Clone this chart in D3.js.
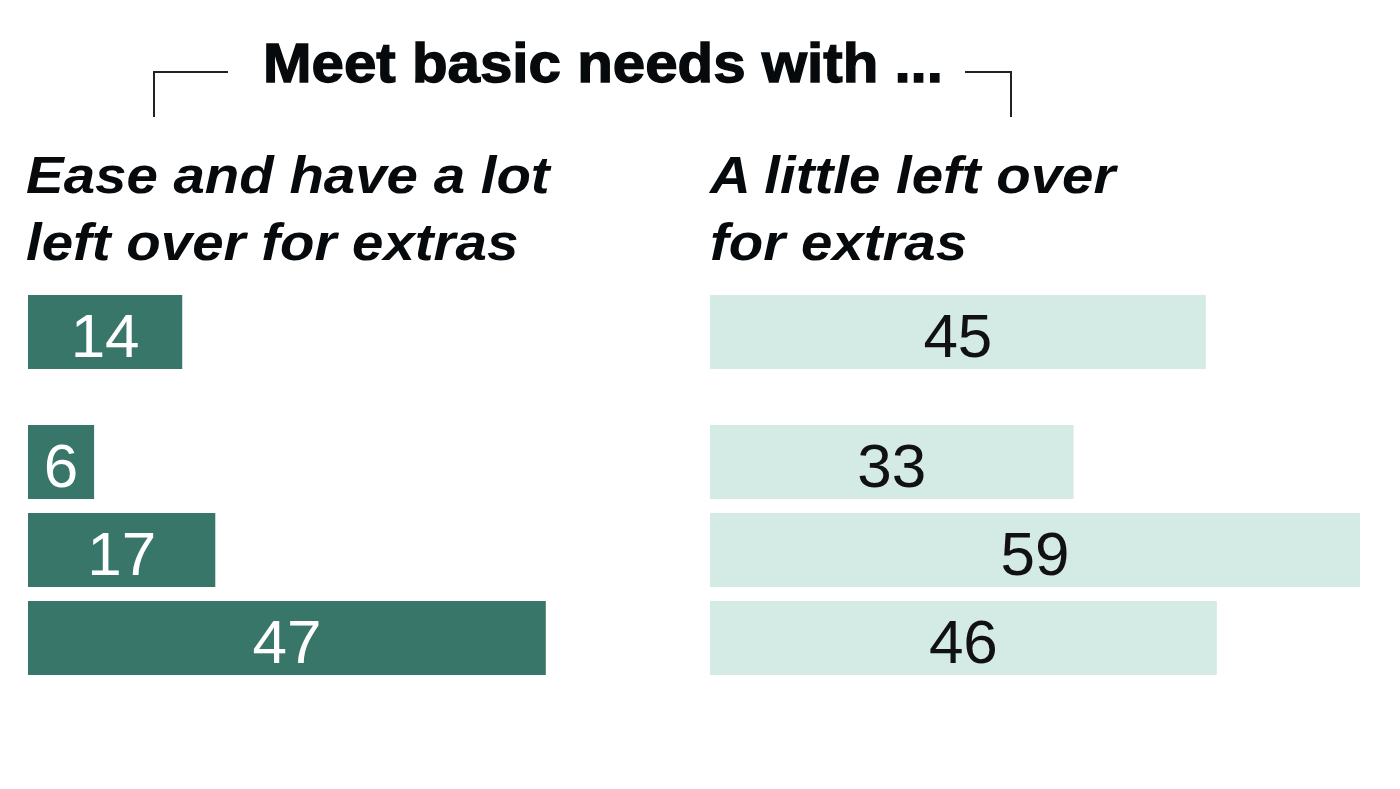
<!DOCTYPE html>
<html>
<head>
<meta charset="utf-8">
<script src="https://cdn.jsdelivr.net/npm/d3@7"></script>
<style>
  html, body { margin: 0; padding: 0; background: #fff; }
  svg { display: block; }
</style>
</head>
<body>
<svg id="chart" width="1400" height="789"></svg>
<script>
// ---- Data ----
const rows = ["Total", "Group 1", "Group 2", "Group 3"];
const aLotLeftOver = [14, 6, 17, 47];      // Ease and have a lot left over for extras
const aLittleLeftOver = [45, 33, 59, 46];  // A little left over for extras
const title = "Meet basic needs with ...";
const leftHeader = ["Ease and have a lot", "left over for extras"];
const rightHeader = ["A little left over", "for extras"];

// ---- Layout ----
const svg = d3.select("#chart");
const leftX0 = 28, rightX0 = 710;
const darkGreen = "#387669", lightGreen = "#d3eae5";

const x = d3.scaleLinear().domain([0, 59]).range([0, 650]);
const y = d3.scaleBand().domain(rows).range([295, 295 + 3 * 88 + 74]).paddingInner(14 / 88).paddingOuter(0);
const groupGap = 42;
const yPos = (r, i) => y(r) + (i > 0 ? groupGap : 0);

// Title
svg.append("text")
  .attr("x", 263).attr("y", 82)
  .attr("font-family", "Liberation Sans, Arial, sans-serif")
  .attr("font-weight", "bold")
  .attr("font-size", 55)
  .attr("fill", "#060a0c")
  .attr("stroke", "#060a0c").attr("stroke-width", 1.3)
  .attr("textLength", 680).attr("lengthAdjust", "spacingAndGlyphs")
  .text(title);

// Brackets
const bracket = d3.line();
svg.append("path")
  .attr("d", bracket([[154, 117], [154, 72], [228, 72]]))
  .attr("fill", "none").attr("stroke", "#222").attr("stroke-width", 2);
svg.append("path")
  .attr("d", bracket([[965, 72], [1011, 72], [1011, 117]]))
  .attr("fill", "none").attr("stroke", "#222").attr("stroke-width", 2);

// Column headers
function header(lines, x0) {
  const t = svg.append("text")
    .attr("transform", `translate(${x0},0) scale(1.085,1)`)
    .attr("font-family", "Liberation Sans, Arial, sans-serif")
    .attr("font-style", "italic")
    .attr("font-weight", "bold")
    .attr("font-size", 52)
    .attr("fill", "#060a0c");
  lines.forEach((l, i) => {
    t.append("tspan").attr("x", 0).attr("y", 193 + i * 67).text(l);
  });
}
header(leftHeader, 26);
header(rightHeader, 710);

// Bars
function bars(values, x0, fill, textFill) {
  const g = svg.append("g");
  g.selectAll("rect").data(values).join("rect")
    .attr("x", x0)
    .attr("y", (d, i) => yPos(rows[i], i))
    .attr("width", d => x(d))
    .attr("height", y.bandwidth())
    .attr("fill", fill);
  g.selectAll("text").data(values).join("text")
    .attr("x", d => x0 + x(d) / 2)
    .attr("y", (d, i) => yPos(rows[i], i) + y.bandwidth() / 2 + 25)
    .attr("text-anchor", "middle")
    .attr("font-family", "Liberation Sans, Arial, sans-serif")
    .attr("font-size", 62)
    .attr("fill", textFill)
    .text(d => d);
}
bars(aLotLeftOver, leftX0, darkGreen, "#ffffff");
bars(aLittleLeftOver, rightX0, lightGreen, "#111111");
</script>
</body>
</html>
